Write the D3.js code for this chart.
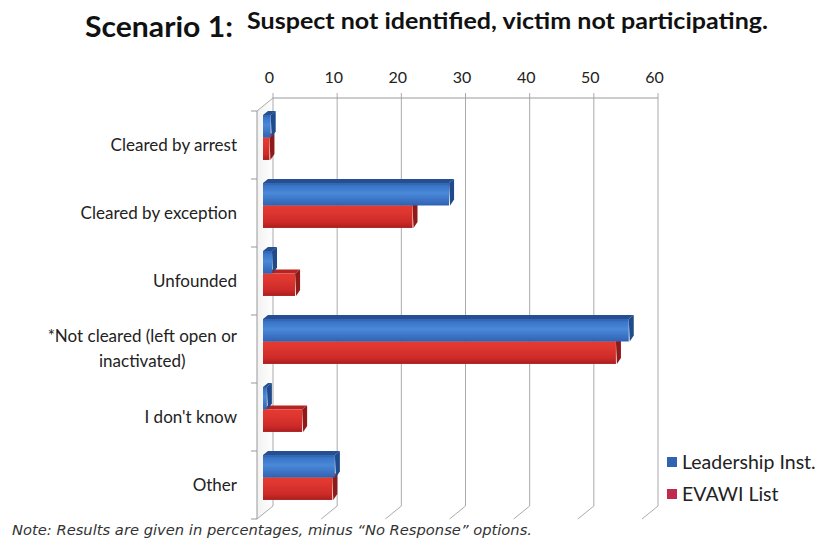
<!DOCTYPE html>
<html>
<head>
<meta charset="utf-8">
<script src="https://cdn.jsdelivr.net/npm/d3@7/dist/d3.min.js"></script>
<style>
  html, body { margin: 0; padding: 0; background: #ffffff; }
  svg { display: block; }
</style>
</head>
<body>
<svg id="chart" width="823" height="541"></svg>
<script>
// Survey responses (percent), Scenario 1
const categories = [
  "Cleared by arrest",
  "Cleared by exception",
  "Unfounded",
  "*Not cleared (left open or|inactivated)",
  "I don't know",
  "Other"
];
const leadershipValues = [1.2, 29, 1.4, 57, 0.6, 11.2];
const evawiValues      = [1.0, 23.3, 5, 55, 6.1, 10.8];
const seriesNames = ["Leadership Inst.", "EVAWI List"];
const xTicks = [0, 10, 20, 30, 40, 50, 60];

const svg = d3.select("#chart");
const labelFont = "Lato, 'Open Sans', sans-serif";

// oblique 3D frame: back wall plane plus a depth offset toward the viewer
const back = { left: 273, right: 658, top: 98, bottom: 506 };
const depth = { dx: -16, dy: 13 };

const xBack = d3.scaleLinear().domain([0, 60]).range([back.left, back.right]);
// bars sit partway into the depth
const barOff = { dx: -10, dy: 6 };
const xBar = d3.scaleLinear().domain([0, 60]).range([back.left + barOff.dx, back.right + barOff.dx]);
const yBand = d3.scaleBand().domain(categories)
  .range([back.top + barOff.dy - 0.5, back.bottom + barOff.dy - 0.5])
  .paddingInner(0.34).paddingOuter(0.17);
const yFront = d3.scaleBand().domain(categories)
  .range([back.top + depth.dy, back.bottom + depth.dy]);

// gradients for the bar faces
const defs = svg.append("defs");
function grad(id, stops) {
  const g = defs.append("linearGradient").attr("id", id)
    .attr("x1", 0).attr("y1", 0).attr("x2", 0).attr("y2", 1);
  stops.forEach(s => g.append("stop").attr("offset", s[0]).attr("stop-color", s[1]));
}
grad("blueFace", [[0, "#2a5aa6"], [0.12, "#3a74c8"], [0.45, "#4a88d8"], [0.8, "#3a70c2"], [1, "#2f62b0"]]);
grad("redFace", [[0, "#e43a32"], [0.3, "#de3630"], [0.75, "#cc2a28"], [1, "#a81e1e"]]);
const wallGrad = defs.append("linearGradient").attr("id", "wall")
  .attr("x1", 0).attr("y1", 0).attr("x2", 1).attr("y2", 0);
wallGrad.append("stop").attr("offset", 0).attr("stop-color", "#d8d8d8");
wallGrad.append("stop").attr("offset", 1).attr("stop-color", "#ffffff");

const gridColor = "#aaaaaa";
const frame = svg.append("g");

// left side wall shading
frame.append("path")
  .attr("d", `M${back.left},${back.top} L${back.left + depth.dx},${back.top + depth.dy} L${back.left + depth.dx},${back.bottom + depth.dy} L${back.left},${back.bottom} Z`)
  .attr("fill", "url(#wall)").attr("opacity", 0.35);

// vertical gridlines on the back wall and their floor extensions
xTicks.forEach(t => {
  const x = xBack(t);
  frame.append("line").attr("x1", x).attr("x2", x)
    .attr("y1", back.top - 5).attr("y2", back.bottom)
    .attr("stroke", gridColor).attr("stroke-width", 1);
  frame.append("line").attr("x1", x).attr("y1", back.bottom)
    .attr("x2", x + depth.dx).attr("y2", back.bottom + depth.dy)
    .attr("stroke", gridColor).attr("stroke-width", 1);
});
// top edge of back wall (value axis line)
frame.append("line").attr("x1", back.left).attr("x2", back.right)
  .attr("y1", back.top).attr("y2", back.top)
  .attr("stroke", "#999999").attr("stroke-width", 1);
// top diagonal and front edge of the side wall
frame.append("line").attr("x1", back.left).attr("y1", back.top)
  .attr("x2", back.left + depth.dx).attr("y2", back.top + depth.dy)
  .attr("stroke", gridColor);
frame.append("line").attr("x1", back.left + depth.dx).attr("x2", back.left + depth.dx)
  .attr("y1", back.top + depth.dy).attr("y2", back.bottom + depth.dy)
  .attr("stroke", "#999999");

// category tick marks on the side wall front edge
const boundaries = categories.map(c => yFront(c)).concat([back.bottom + depth.dy]);
boundaries.forEach(y => {
  frame.append("line").attr("x1", back.left + depth.dx - 6).attr("x2", back.left + depth.dx)
    .attr("y1", y).attr("y2", y).attr("stroke", "#999999");
});

// value axis labels across the top
const xAxis = d3.axisTop(xBack).tickValues(xTicks).tickSize(0).tickPadding(0);
const axisG = svg.append("g").attr("transform", `translate(0,${back.top - 15})`).call(xAxis);
axisG.select(".domain").remove();
axisG.selectAll("text").attr("font-family", labelFont).attr("font-size", 16)
  .attr("fill", "#222222").attr("dx", -4);

// bars: front face, top face and right end cap
const cap = { dx: 5, dy: -4 };
const half = yBand.bandwidth() / 2;
const series = [
  { name: seriesNames[1], values: evawiValues, face: "url(#redFace)", top: "#b52420", end: "#8e1a1a", offset: half },
  { name: seriesNames[0], values: leadershipValues, face: "url(#blueFace)", top: "#244f92", end: "#1f4a8c", offset: 0 }
];
const barsG = svg.append("g");
series.forEach(s => {
  const g = barsG.append("g");
  categories.forEach((c, i) => {
    const x0 = xBar(0), x1 = xBar(s.values[i]);
    const y0 = yBand(c) + s.offset, y1 = y0 + half;
    // top face
    g.append("path")
      .attr("d", `M${x0},${y0} L${x0 + cap.dx},${y0 + cap.dy} L${x1 + cap.dx},${y0 + cap.dy} L${x1},${y0} Z`)
      .attr("fill", s.top);
    // end cap
    g.append("path")
      .attr("d", `M${x1},${y0} L${x1 + cap.dx},${y0 + cap.dy} L${x1 + cap.dx},${y1 + cap.dy - 2} L${x1 + 1},${y1} Z`)
      .attr("fill", s.end);
    // front face
    g.append("rect").attr("x", x0).attr("y", y0)
      .attr("width", Math.max(0, x1 - x0)).attr("height", half)
      .attr("fill", s.face);
  });
});

// category labels, right-aligned; wrapped labels centered in their block
const catG = svg.append("g");
const labelRight = 237;
categories.forEach(c => {
  const lines = c.split("|");
  const cy = yFront(c) + yFront.bandwidth() / 2;
  const lh = 25;
  const t = catG.append("text").attr("font-family", labelFont).attr("font-size", 17)
    .attr("fill", "#222222");
  lines.forEach((ln, k) => {
    t.append("tspan").attr("y", cy + (k - (lines.length - 1) / 2) * lh).attr("dy", "0.35em").text(ln);
  });
  if (lines.length === 1) {
    t.attr("text-anchor", "end").selectAll("tspan").attr("x", labelRight);
  } else {
    let w = 0;
    t.selectAll("tspan").each(function () { w = Math.max(w, this.getComputedTextLength()); });
    t.attr("text-anchor", "middle").selectAll("tspan").attr("x", labelRight - w / 2);
  }
});

// legend
const legendColors = ["#2f62b0", "#c02a4c"];
const legG = svg.append("g").attr("transform", "translate(667,462)");
seriesNames.forEach((n, i) => {
  const row = legG.append("g").attr("transform", `translate(0,${i * 32})`);
  row.append("rect").attr("x", 0).attr("y", -5).attr("width", 10).attr("height", 10)
    .attr("fill", legendColors[i]);
  row.append("text").attr("x", 15).attr("y", 0).attr("dy", "0.35em")
    .attr("font-family", labelFont).attr("font-size", 19.5).attr("fill", "#222222").text(n);
});

// titles
svg.append("text").attr("x", 85).attr("y", 37)
  .attr("font-family", "Lato, 'Open Sans', sans-serif").attr("font-weight", "bold")
  .attr("font-size", 28).attr("fill", "#111111")
  .attr("textLength", 148).attr("lengthAdjust", "spacingAndGlyphs")
  .text("Scenario 1:");
svg.append("text").attr("x", 247).attr("y", 29)
  .attr("font-family", "Lato, 'Open Sans', sans-serif").attr("font-weight", "bold")
  .attr("font-size", 22).attr("fill", "#111111")
  .attr("textLength", 521).attr("lengthAdjust", "spacingAndGlyphs")
  .text("Suspect not identified, victim not participating.");

// footnote
svg.append("text").attr("x", 12).attr("y", 535)
  .attr("font-family", "'DejaVu Sans', sans-serif").attr("font-style", "italic")
  .attr("font-size", 14).attr("fill", "#333333")
  .attr("textLength", 520).attr("lengthAdjust", "spacingAndGlyphs")
  .text("Note:  Results are given in percentages, minus \u201CNo Response\u201D options.");
</script>
</body>
</html>
